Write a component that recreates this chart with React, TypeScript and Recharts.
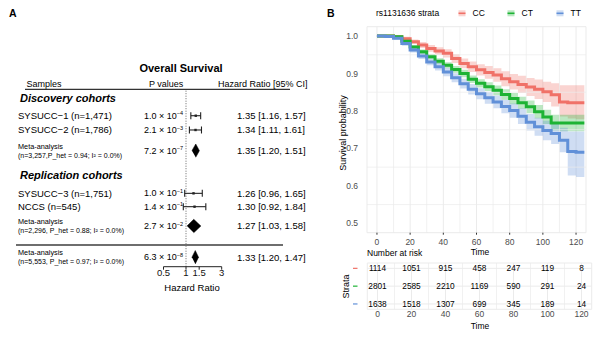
import React from 'react';
import {
  ScatterChart, Scatter, ErrorBar, ComposedChart, Area, Line,
  XAxis, YAxis, CartesianGrid, ReferenceLine,
} from 'recharts';

const FONT = '"Liberation Sans", Arial, Helvetica, sans-serif';

// ---------- panel A: forest plot ----------
const cohortNames = ['SYSUCC−1 (n=1,471)', 'SYSUCC−2 (n=1,786)', 'Meta-analysis', 'SYSUCC−3 (n=1,751)', 'NCCS (n=545)', 'Meta-analysis', 'Meta-analysis'];
const cohortNotes = ['', '', '(n=3,257,P_het = 0.94; I² = 0.0%)', '', '', '(n=2,296, P_het = 0.88; I² = 0.0%)', '(n=5,553, P_het = 0.97; I² = 0.0%)'];
const pMantissa = ['1.0', '2.1', '7.2', '1.0', '1.4', '2.7', '6.3'];
const pExponent = ['−4', '−3', '−7', '−1', '−1', '−2', '−8'];
const hazardRatio = [1.35, 1.34, 1.35, 1.26, 1.30, 1.27, 1.33];
const ciLower = [1.16, 1.11, 1.20, 0.96, 0.92, 1.03, 1.20];
const ciUpper = [1.57, 1.61, 1.51, 1.65, 1.84, 1.58, 1.47];
const isMeta = [false, false, true, false, false, true, true];
const groupTitles = ['Discovery cohorts', 'Replication cohorts'];
const hrTicks = [0.5, 1, 1.5, 3];

// table layout: vertical slot of each row (1 unit ~ one text line)
const rowSlot = [1.98, 3.05, 4.6, 7.8, 8.8, 10.25, 12.59];
const groupSlot = [0.67, 6.42];
const ruleSlot = 11.67;
const diamondHalf = 0.5;

// ---------- panel B: Kaplan-Meier ----------
const strata = ['CC', 'CT', 'TT'];
const strataColor = ['#F07168', '#1DB334', '#6190D8'];
const kmTime = [0, 5, 10, 15, 20, 25, 30, 35, 40, 45, 50, 55, 60, 65, 70, 75, 80, 85, 90, 95, 100, 105, 110, 115, 120, 125];
const survCC = [1.0, 1.0, 0.998, 0.993, 0.985, 0.976, 0.967, 0.960, 0.954, 0.940, 0.927, 0.918, 0.910, 0.903, 0.896, 0.886, 0.878, 0.871, 0.864, 0.858, 0.851, 0.843, 0.824, 0.822, 0.822, 0.822];
const lowCC = [1.0, 0.999, 0.995, 0.988, 0.979, 0.968, 0.958, 0.950, 0.943, 0.928, 0.914, 0.904, 0.895, 0.886, 0.878, 0.866, 0.857, 0.848, 0.840, 0.832, 0.824, 0.812, 0.785, 0.780, 0.778, 0.778];
const highCC = [1.0, 1.0, 1.0, 0.998, 0.991, 0.984, 0.976, 0.970, 0.965, 0.952, 0.940, 0.932, 0.925, 0.920, 0.914, 0.906, 0.899, 0.894, 0.888, 0.884, 0.878, 0.874, 0.869, 0.869, 0.869, 0.869];
const survCT = [1.0, 1.0, 0.998, 0.986, 0.971, 0.958, 0.945, 0.933, 0.922, 0.911, 0.900, 0.885, 0.874, 0.865, 0.855, 0.844, 0.833, 0.822, 0.811, 0.798, 0.784, 0.768, 0.768, 0.768, 0.768, 0.768];
const lowCT = [1.0, 0.999, 0.996, 0.982, 0.966, 0.952, 0.938, 0.925, 0.914, 0.902, 0.890, 0.875, 0.863, 0.853, 0.842, 0.830, 0.818, 0.806, 0.794, 0.780, 0.765, 0.748, 0.746, 0.746, 0.746, 0.746];
const highCT = [1.0, 1.0, 1.0, 0.990, 0.976, 0.964, 0.952, 0.941, 0.930, 0.920, 0.910, 0.895, 0.885, 0.877, 0.868, 0.858, 0.848, 0.838, 0.828, 0.816, 0.803, 0.790, 0.790, 0.790, 0.790, 0.790];
const survTT = [1.0, 0.999, 0.994, 0.980, 0.963, 0.947, 0.931, 0.918, 0.904, 0.889, 0.873, 0.858, 0.846, 0.835, 0.824, 0.812, 0.801, 0.786, 0.770, 0.758, 0.748, 0.740, 0.722, 0.692, 0.690, 0.690];
const lowTT = [1.0, 0.997, 0.990, 0.974, 0.956, 0.939, 0.922, 0.908, 0.893, 0.877, 0.860, 0.844, 0.831, 0.819, 0.807, 0.794, 0.782, 0.765, 0.748, 0.734, 0.722, 0.712, 0.690, 0.628, 0.624, 0.624];
const highTT = [1.0, 1.0, 0.998, 0.986, 0.970, 0.955, 0.940, 0.928, 0.915, 0.901, 0.886, 0.872, 0.861, 0.851, 0.841, 0.830, 0.820, 0.807, 0.792, 0.782, 0.774, 0.768, 0.755, 0.745, 0.745, 0.745];
const kmTicksX = [0, 20, 40, 60, 80, 100, 120];
const kmMinorX = [10, 30, 50, 70, 90, 110];
const kmTicksY = [0.5, 0.6, 0.7, 0.8, 0.9, 1.0];
const kmMinorY = [0.55, 0.65, 0.75, 0.85, 0.95];

const riskTime = [0, 20, 40, 60, 80, 100, 120];
const riskCC = [1114, 1051, 915, 458, 247, 119, 8];
const riskCT = [2801, 2585, 2210, 1169, 590, 291, 24];
const riskTT = [1638, 1518, 1307, 699, 345, 189, 14];

// ---------- tables built from the arrays ----------
const forestRows = hazardRatio.map((hr, i) => ({
  hr, slot: rowSlot[i], err: [hr - ciLower[i], ciUpper[i] - hr], meta: isMeta[i], lo: ciLower[i], hi: ciUpper[i],
}));
const whiskerRows = forestRows.filter((r) => !r.meta);
const diamonds = forestRows.filter((r) => r.meta).map((r) => [
  { hr: r.lo, slot: r.slot },
  { hr: r.hr, slot: r.slot - diamondHalf },
  { hr: r.hi, slot: r.slot },
  { hr: r.hr, slot: r.slot + diamondHalf },
]);
const forestTicks = [0, ...groupSlot, ...rowSlot, ruleSlot];

const kmData = kmTime.map((t, i) => ({
  t,
  cc: survCC[i], ccBand: [lowCC[i], highCC[i]],
  ct: survCT[i], ctBand: [lowCT[i], highCT[i]],
  tt: survTT[i], ttBand: [lowTT[i], highTT[i]],
}));
const riskRows = [riskCC, riskCT, riskTT].map((vals, s) => riskTime.map((t, i) => ({ t, row: s + 1, n: vals[i] })));

const ForestTick = (props: any) => {
  const { y, payload } = props;
  const v = payload.value;
  if (v === 0) return <line x1={25} x2={290} y1={y} y2={y} stroke="#333" strokeWidth={1.3} />;
  if (v === ruleSlot) return <line x1={16} x2={283} y1={y} y2={y} stroke="#6e6e6e" strokeWidth={2} />;
  const g = groupSlot.indexOf(v);
  if (g >= 0) {
    return (
      <text x={20} y={y} dy="0.35em" fontSize={11} fontWeight="bold" fontStyle="italic" fill="#000">
        {groupTitles[g]}
      </text>
    );
  }
  const i = rowSlot.indexOf(v);
  if (i < 0) return null;
  const hrText = `${hazardRatio[i].toFixed(2)} [${ciLower[i].toFixed(2)}, ${ciUpper[i].toFixed(2)}]`;
  return (
    <g>
      {isMeta[i] ? (
        <>
          <text x={18} y={y - 4.5} dy="0.35em" fontSize={7.3} fill="#000">{cohortNames[i]}</text>
          <text x={18} y={y + 4.8} dy="0.35em" fontSize={7} fill="#000">{cohortNotes[i]}</text>
        </>
      ) : (
        <text x={18} y={y} dy="0.35em" fontSize={9.5} fill="#000">{cohortNames[i]}</text>
      )}
      <text x={183} y={y} dy="0.35em" textAnchor="end" fontSize={9} fill="#000">
        {pMantissa[i]} × 10<tspan fontSize={5.5} dy={-3.5}>{pExponent[i]}</tspan>
      </text>
      <text x={237} y={y} dy="0.35em" fontSize={9.5} fill="#000">{hrText}</text>
    </g>
  );
};

const StrataTick = (props: any) => {
  const { y, payload } = props;
  return <line x1={53} x2={57.5} y1={y} y2={y} stroke={strataColor[payload.value - 1]} strokeWidth={1.2} />;
};

const gridColor = '#EBEBEB';
const tickStyle = { fontSize: 8.5, fill: '#4D4D4D', fontFamily: FONT };
const kmMargin = { top: 26.7, right: 14, bottom: 0, left: 0 };
// label-only chart: hidden x axis takes no room, so its height goes into the margin
const kmLabelMargin = { top: 26.7, right: 14, bottom: 17.3, left: 0 };

export default function App() {
  return (
    <div style={{ position: 'relative', width: 600, height: 337, background: '#fff', fontFamily: FONT, overflow: 'hidden' }}>
      <style>{'body{margin:0}'}</style>

      {/* static titles and labels */}
      <svg width={600} height={337} style={{ position: 'absolute', left: 0, top: 0, zIndex: 0 }}>
        <text x={9} y={13.3} dy="0.35em" fontSize={10.5} fontWeight="bold">A</text>
        <text x={181} y={68.3} dy="0.35em" fontSize={11} fontWeight="bold" textAnchor="middle">Overall Survival</text>
        <text x={26.5} y={84} dy="0.35em" fontSize={9}>Samples</text>
        <text x={149} y={84} dy="0.35em" fontSize={9}>P values</text>
        <text x={218} y={84} dy="0.35em" fontSize={9}>Hazard Ratio [95% CI]</text>
        <text x={192} y={287.3} dy="0.35em" fontSize={9.5} textAnchor="middle">Hazard Ratio</text>

        <text x={327} y={13.3} dy="0.35em" fontSize={10.5} fontWeight="bold">B</text>
        <text x={376} y={13.3} dy="0.35em" fontSize={8.5}>rs1131636 strata</text>
        {strata.map((s, i) => (
          <g key={s}>
            <rect x={458.5 + i * 49} y={10.3} width={7} height={6} fill={strataColor[i]} fillOpacity={0.3} />
            <line x1={458.5 + i * 49} x2={465.5 + i * 49} y1={13.3} y2={13.3} stroke={strataColor[i]} strokeWidth={1.6} />
            <text x={472.5 + i * 49} y={13.3} dy="0.35em" fontSize={8.5}>{s}</text>
          </g>
        ))}
        <text transform="translate(343,133) rotate(-90)" textAnchor="middle" dy="0.35em" fontSize={9}>Survival probability</text>
        <text x={480} y={252} dy="0.35em" fontSize={8.5} textAnchor="middle">Time</text>
        <text x={367} y={253} dy="0.35em" fontSize={8.5}>Number at risk</text>
        <text transform="translate(345.5,286.5) rotate(-90)" textAnchor="middle" dy="0.35em" fontSize={9}>Strata</text>
        <text x={480} y={326} dy="0.35em" fontSize={8.5} textAnchor="middle">Time</text>
      </svg>

      {/* panel A: forest plot */}
      <div style={{ position: 'absolute', left: 0, top: 0, zIndex: 1 }}>
        <ScatterChart width={310} height={300} margin={{ top: 89.3, right: 88.3, bottom: 13.3, left: 0 }}>
          <XAxis
            type="number" dataKey="hr" scale="log" domain={[0.5, 3]} allowDataOverflow
            ticks={hrTicks} interval={0} height={20}
            axisLine={{ stroke: '#222' }} tickLine={{ stroke: '#222' }} tickSize={3} tickMargin={0}
            tick={{ fontSize: 9.5, fill: '#111', fontFamily: FONT }}
          />
          <YAxis
            type="number" dataKey="slot" domain={[0, 13.3]} reversed width={163.5}
            ticks={forestTicks} interval={0} axisLine={false} tickLine={false} tick={<ForestTick />}
          />
          <ReferenceLine x={1} stroke="#666" strokeDasharray="1 1.5" />
          <Scatter
            data={whiskerRows} isAnimationActive={false} fill="#222"
            shape={(p: any) => <rect x={p.cx - 1.2} y={p.cy - 1.2} width={2.4} height={2.4} fill="#222" />}
          >
            <ErrorBar dataKey="err" direction="x" width={3.5} stroke="#222" strokeWidth={1.1} isAnimationActive={false} />
          </Scatter>
          {diamonds.map((d, i) => (
            <Scatter
              key={i} data={d} isAnimationActive={false} fill="#000"
              line={{ fill: '#000', stroke: '#000', strokeWidth: 0.5 }}
              shape={() => <g />}
            />
          ))}
        </ScatterChart>
      </div>

      {/* panel B: number at risk table */}
      <div style={{ position: 'absolute', left: 300, top: 250, zIndex: 2 }}>
        <ScatterChart width={300} height={87} margin={{ top: 13, right: 8.3, bottom: 0, left: 0 }}>
          <CartesianGrid stroke={gridColor} strokeWidth={1} />
          {kmMinorX.map((v) => <ReferenceLine key={v} x={v} stroke={gridColor} strokeWidth={0.7} />)}
          <XAxis
            type="number" dataKey="t" domain={[-6, 126]} allowDataOverflow ticks={riskTime} interval={0}
            height={27.7} axisLine={false} tickLine={false} tickSize={0} tickMargin={2} tick={tickStyle}
          />
          <YAxis
            type="number" dataKey="row" domain={[0.7, 3.3]} reversed ticks={[1, 2, 3]} interval={0} width={67.3}
            axisLine={false} tickLine={false} tick={<StrataTick />}
          />
          {riskRows.map((rows, s) => (
            <Scatter
              key={strata[s]} data={rows} isAnimationActive={false}
              shape={(p: any) => (
                <text x={p.cx} y={p.cy} dy="0.35em" textAnchor="middle" fontSize={8.3} fill="#000" fontFamily={FONT}>
                  {p.payload.n}
                </text>
              )}
            />
          ))}
        </ScatterChart>
      </div>

      {/* panel B: survival curves */}
      <div style={{ position: 'absolute', left: 300, top: 0, zIndex: 3 }}>
        <ComposedChart width={300} height={250} data={kmData} margin={kmMargin}>
          <CartesianGrid stroke={gridColor} strokeWidth={1} />
          {kmMinorX.map((v) => <ReferenceLine key={'x' + v} x={v} stroke={gridColor} strokeWidth={0.7} />)}
          {kmMinorY.map((v) => <ReferenceLine key={'y' + v} y={v} stroke={gridColor} strokeWidth={0.7} />)}
          <XAxis
            type="number" dataKey="t" domain={[-6, 126]} allowDataOverflow ticks={kmTicksX} interval={0}
            height={17.3} axisLine={false} tickLine={{ stroke: '#333' }} tickSize={2} tickMargin={4} tick={tickStyle}
          />
          <YAxis
            type="number" domain={[0.475, 1.025]} ticks={kmTicksY} interval={0} width={67}
            axisLine={false} tickLine={false} tick={false}
          />
          <Area type="stepAfter" dataKey="ccBand" fill={strataColor[0]} fillOpacity={0.3} stroke="none" isAnimationActive={false} />
          <Area type="stepAfter" dataKey="ctBand" fill={strataColor[1]} fillOpacity={0.3} stroke="none" isAnimationActive={false} />
          <Area type="stepAfter" dataKey="ttBand" fill={strataColor[2]} fillOpacity={0.3} stroke="none" isAnimationActive={false} />
          <Line type="stepAfter" dataKey="cc" stroke={strataColor[0]} strokeWidth={3} dot={false} activeDot={false} isAnimationActive={false} />
          <Line type="stepAfter" dataKey="ct" stroke={strataColor[1]} strokeWidth={3} dot={false} activeDot={false} isAnimationActive={false} />
          <Line type="stepAfter" dataKey="tt" stroke={strataColor[2]} strokeWidth={3} dot={false} activeDot={false} isAnimationActive={false} />
        </ComposedChart>
      </div>

      {/* panel B: survival axis labels, same scale as the curves */}
      <div style={{ position: 'absolute', left: 300, top: 0, zIndex: 4 }}>
        <ComposedChart width={300} height={250} data={kmData} margin={kmLabelMargin}>
          <XAxis type="number" dataKey="t" domain={[-6, 126]} hide />
          <YAxis
            type="number" domain={[0.475, 1.025]} ticks={kmTicksY} interval={0} width={67}
            axisLine={false} tickLine={false} tickMargin={3} tick={tickStyle}
            tickFormatter={(v: number) => v.toFixed(1)}
          />
          <Line dataKey="cc" stroke="none" dot={false} activeDot={false} isAnimationActive={false} />
        </ComposedChart>
      </div>
    </div>
  );
}
